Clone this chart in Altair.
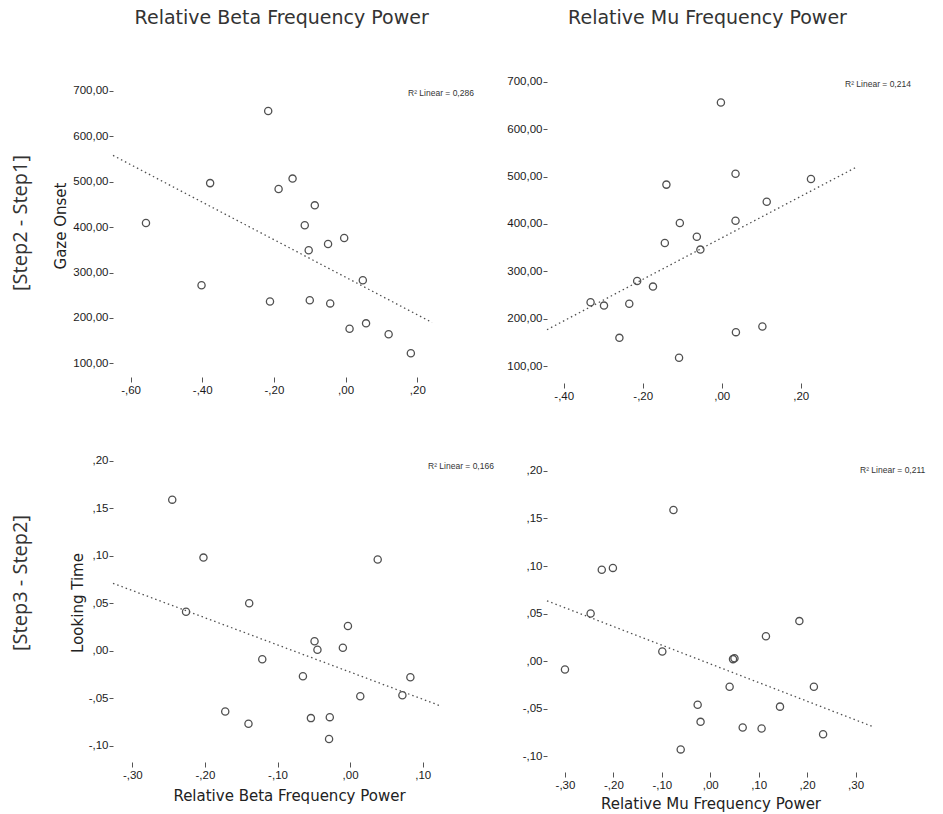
import altair as alt
import pandas as pd

# ---- data ----
beta_gaze_x = [-0.216, -0.557, -0.378, -0.402, -0.187, -0.148, -0.086, -0.114, -0.103, -0.049,
               -0.004, 0.048, -0.211, -0.100, -0.043, 0.011, 0.057, 0.120, 0.182]
beta_gaze_y = [656, 409, 497, 272, 484, 507, 448, 404, 349, 363,
               376, 283, 236, 239, 232, 176, 188, 164, 122]

mu_gaze_x = [-0.002, 0.035, 0.226, -0.140, 0.114, -0.106, 0.035, -0.063, -0.144, -0.054,
             -0.214, -0.174, -0.332, -0.298, -0.234, -0.259, -0.108, 0.036, 0.103]
mu_gaze_y = [656, 506, 495, 483, 447, 402, 407, 373, 360, 346,
             280, 268, 235, 228, 232, 160, 118, 172, 184]

beta_look_x = [-0.245, -0.202, 0.038, -0.139, -0.226, -0.003, -0.049, -0.045, -0.010, -0.121,
               -0.065, 0.083, 0.072, 0.014, -0.172, -0.140, -0.054, -0.028, -0.029]
beta_look_y = [0.159, 0.098, 0.096, 0.050, 0.041, 0.026, 0.010, 0.001, 0.003, -0.009,
               -0.027, -0.028, -0.047, -0.048, -0.064, -0.077, -0.071, -0.070, -0.093]

mu_look_x = [-0.076, -0.224, -0.201, -0.247, 0.184, 0.115, -0.099, 0.047, 0.050, -0.300,
             0.040, 0.214, -0.026, 0.144, -0.020, 0.067, 0.106, 0.233, -0.061]
mu_look_y = [0.159, 0.096, 0.098, 0.050, 0.042, 0.026, 0.010, 0.002, 0.003, -0.009,
             -0.027, -0.027, -0.046, -0.048, -0.064, -0.070, -0.071, -0.077, -0.093]

col_titles = ["Relative Beta Frequency Power", "Relative Mu Frequency Power"]
row_titles = ["[Step2 - Step1]", "[Step3 - Step2]"]
r2_texts = ["R² Linear = 0,286", "R² Linear = 0,214", "R² Linear = 0,166", "R² Linear = 0,211"]

beta_ticks_top = [-0.6, -0.4, -0.2, 0.0, 0.2]
mu_ticks_top = [-0.4, -0.2, 0.0, 0.2]
beta_ticks_bot = [-0.3, -0.2, -0.1, 0.0, 0.1]
mu_ticks_bot = [-0.3, -0.2, -0.1, 0.0, 0.1, 0.2, 0.3]
gaze_ticks = [100, 200, 300, 400, 500, 600, 700]
look_ticks = [-0.10, -0.05, 0.0, 0.05, 0.10, 0.15, 0.20]

W, H = 943, 814

SMALL_FMT = ("(datum.value < -0.0001 ? '-' : '') + "
             "replace(slice(format(abs(datum.value), '.2f'), 1), '.', ',')")
BIG_FMT = "replace(format(datum.value, '.2f'), '.', ',')"

GRAY = "#505050"


def xrange_axis(yrange):
    # bottom axis sits at the bottom of the y range
    return yrange[0] - H


def panel(xs, ys, xdom, xrange, ydom, yrange, xticks, yticks, xfmt, yfmt,
          ytitle_cfg, xtitle_cfg, r2, r2pos):
    df = pd.DataFrame({"x": xs, "y": ys})
    xaxis_kw = dict(orient="bottom", offset=xrange_axis(yrange), values=xticks,
                    labelExpr=xfmt, tickSize=5, labelPadding=2, domain=False, grid=False)
    if xtitle_cfg:
        xaxis_kw.update(title=xtitle_cfg[0], titleX=xtitle_cfg[1], titleY=xtitle_cfg[2],
                        titleBaseline="middle", titleAlign="center")
    else:
        xaxis_kw.update(title="")
    yaxis_kw = dict(orient="left", offset=-xrange[0], values=yticks, labelExpr=yfmt,
                    tickSize=4, labelPadding=1, domain=False, grid=False)
    if ytitle_cfg:
        yaxis_kw.update(title=ytitle_cfg[0], titleX=ytitle_cfg[1] - xrange[0],
                        titleY=ytitle_cfg[2], titleAngle=270,
                        titleBaseline="middle", titleAlign="center")
    else:
        yaxis_kw.update(title="")
    enc = dict(
        x=alt.X("x:Q", scale=alt.Scale(domain=xdom, range=xrange, nice=False, zero=False),
                axis=alt.Axis(**xaxis_kw)),
        y=alt.Y("y:Q", scale=alt.Scale(domain=ydom, range=yrange, nice=False, zero=False),
                axis=alt.Axis(**yaxis_kw)),
    )
    base = alt.Chart(df).encode(**enc)
    pts = base.mark_point(shape="circle", filled=False, size=52, strokeWidth=1.3,
                          color=GRAY, opacity=1)
    line = base.transform_regression("x", "y", extent=xdom).mark_line(
        strokeDash=[1.5, 3], color=GRAY, strokeWidth=1.3)
    txt = alt.Chart(pd.DataFrame({"t": [r2]})).mark_text(
        align="left", baseline="middle", fontSize=8.5, font="Liberation Sans",
        color="#333333").encode(x=alt.value(r2pos[0]), y=alt.value(r2pos[1]), text="t:N")
    return alt.layer(line, pts, txt)


p1 = panel(beta_gaze_x, beta_gaze_y, [-0.649, 0.241], [113, 432], [69.8, 713.2], [377, 85],
           beta_ticks_top, gaze_ticks, SMALL_FMT, BIG_FMT,
           ("Gaze Onset", 60, 225.5), None, r2_texts[0], (408, 93))
p2 = panel(mu_gaze_x, mu_gaze_y, [-0.4423, 0.340], [547, 856], [64.8, 714.1], [383, 75],
           mu_ticks_top, gaze_ticks, SMALL_FMT, BIG_FMT,
           None, None, r2_texts[1], (845, 84))
p3 = panel(beta_look_x, beta_look_y, [-0.3266, 0.1238], [113, 440], [-0.1172, 0.206], [762, 455],
           beta_ticks_bot, look_ticks, SMALL_FMT, SMALL_FMT,
           ("Looking Time", 77.7, 602.5), (col_titles[0], 289, 33), r2_texts[2], (428, 466))
p4 = panel(mu_look_x, mu_look_y, [-0.3371, 0.3340], [547, 872], [-0.1168, 0.2063], [772, 465],
           mu_ticks_bot, look_ticks, SMALL_FMT, SMALL_FMT,
           None, (col_titles[1], 710.5, 31), r2_texts[3], (860, 470))


def label(text, x, y, size, font, angle=0):
    mk = dict(fontSize=size, font=font, color="#333333", align="center", baseline="middle")
    if angle:
        mk["angle"] = angle
    return alt.Chart(pd.DataFrame({"t": [text]})).mark_text(**mk).encode(
        x=alt.value(x), y=alt.value(y), text="t:N")


head1 = label(col_titles[0], 281.7, 18, 19, "DejaVu Sans")
head2 = label(col_titles[1], 707.5, 18, 19, "DejaVu Sans")
row1 = label(row_titles[0], 21, 223, 20, "Open Sans", 270)
row2 = label(row_titles[1], 21, 583, 20, "Open Sans", 270)

chart = alt.layer(p1, p2, p3, p4, head1, head2, row1, row2).resolve_scale(
    x="independent", y="independent"
).properties(
    width=W, height=H, autosize=alt.AutoSizeParams(type="none"), padding=0,
    background="white"
).configure_view(stroke="transparent").configure_axis(
    labelFont="Liberation Sans", labelFontSize=11.5, labelColor="#1a1a1a",
    tickColor="#555555", tickWidth=1,
    titleFont="DejaVu Sans", titleFontSize=15, titleColor="#222222", titleFontWeight="normal"
)

chart.save("out.html", embed_options={"renderer": "svg", "actions": False})
